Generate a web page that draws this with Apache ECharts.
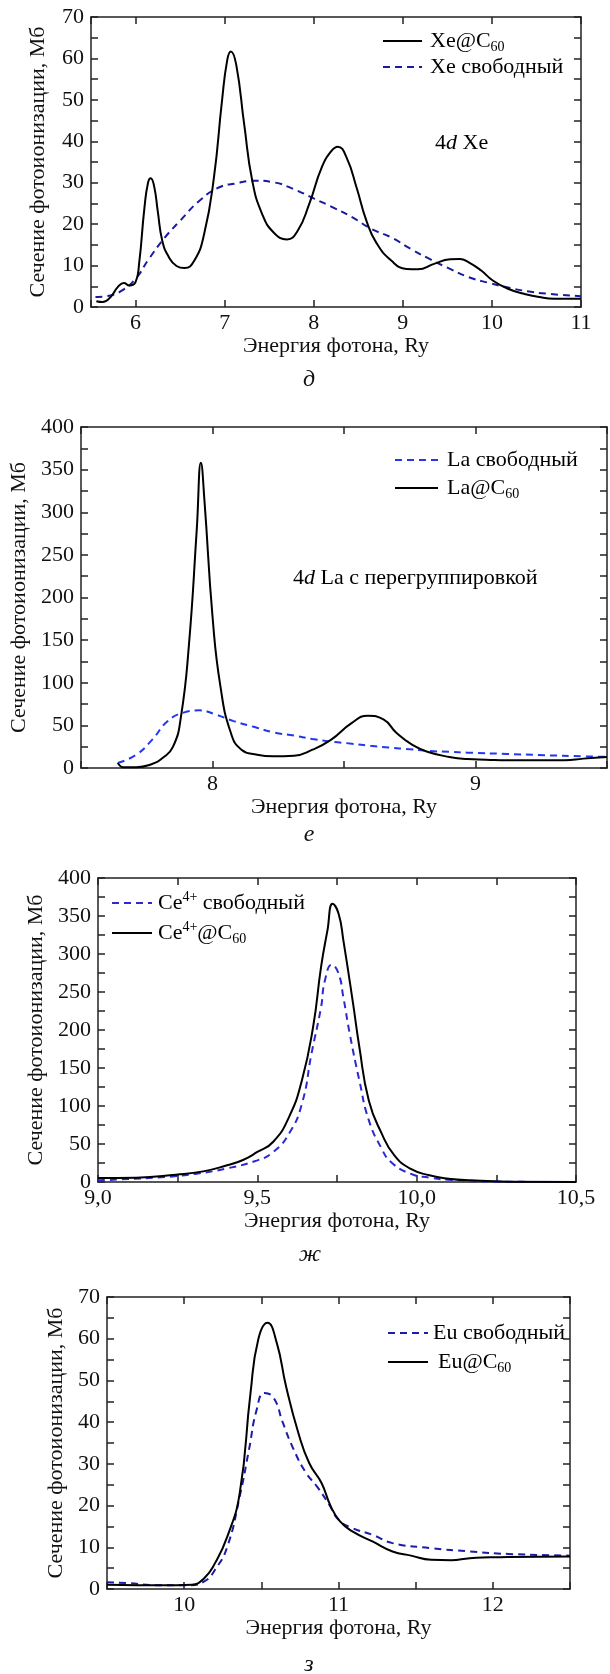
<!DOCTYPE html>
<html>
<head>
<meta charset="utf-8">
<script src="https://cdn.jsdelivr.net/npm/echarts@6.0.0/dist/echarts.min.js"></script>
<style>
  html, body { margin: 0; padding: 0; background: #fff; }
  #main { width: 610px; height: 1674px; }
</style>
</head>
<body>
<div id="main"></div>
<script>
// д: 4d Xe
var xeCageE = [5.56,5.63,5.72,5.8,5.87,5.93,6.0,6.04,6.1,6.14,6.17,6.21,6.25,6.3,6.37,6.46,6.55,6.66,6.77,6.88,6.97,7.03,7.07,7.13,7.22,7.31,7.42,7.55,7.7,7.82,7.95,8.09,8.2,8.27,8.37,8.48,8.59,8.7,8.87,9.04,9.17,9.35,9.53,9.64,9.74,9.88,10.01,10.18,10.36,10.53,10.7,11.0];
var xeCageS = [1.4,1.2,2.4,4.8,5.8,5.2,6.0,10.5,24,30,31.1,29,23,16,12.2,9.9,9.4,11.2,17.6,31.3,49.7,59.7,61.7,58.5,44,30.5,22.5,18,16.3,18.4,24.9,33.7,37.7,38.7,36,28.9,20.9,15.6,11.2,9.2,9.1,10.4,11.5,11.6,10.8,8.8,6.4,4.4,3.2,2.4,2.0,2.0];
var xeFreeE = [5.55,5.72,5.85,6.0,6.15,6.33,6.5,6.72,6.94,7.12,7.34,7.55,7.77,8.0,8.22,8.43,8.65,8.87,9.09,9.3,9.53,9.74,9.97,10.18,10.4,10.62,11.0];
var xeFreeS = [2.4,2.8,4.0,6.8,11.6,16.8,20.8,25.7,28.9,29.8,30.5,30.1,28.5,26.2,24,21.7,18.8,16.8,14,11.6,9.2,7.2,5.8,4.7,3.8,3.2,2.6];

// е: 4d La
var laCageE = [7.64,7.66,7.71,7.77,7.81,7.85,7.88,7.91,7.94,7.956,7.97,8.0,8.03,8.07,8.11,8.17,8.23,8.31,8.38,8.45,8.53,8.59,8.65,8.7,8.76,8.82,8.9,8.97,9.04,9.12,9.26,9.34,9.41,9.5];
var laCageS = [6,1,1,4.7,11.7,25,60,143,279,358,311,178,96,41,21.5,15.6,13.7,14.5,21.5,33,53,61.3,57,41,27,18.8,13,10.5,9.8,9,9,9,11,13];
var laFreeE = [7.64,7.71,7.77,7.83,7.89,7.95,8.01,8.08,8.16,8.23,8.31,8.38,8.45,8.53,8.6,8.67,8.75,8.82,8.9,8.97,9.12,9.26,9.41,9.5];
var laFreeS = [6,15.6,33,55,65,67.6,63,55,48,42,38,34,31,28.5,26,24,22,20,19,18,16.5,15,13.7,13];

// ж: Ce4+
var ceCageE = [9.0,9.12,9.245,9.33,9.405,9.455,9.5,9.55,9.6,9.64,9.675,9.7,9.72,9.736,9.755,9.77,9.8,9.82,9.85,9.89,9.93,9.98,10.04,10.1,10.17,10.29,10.5];
var ceCageS = [5.3,5.7,9.6,14,22,29,39.5,53,86,134,204,283,331,366,353,318,236,178,107,64,35,17.5,8.8,4.4,2.2,0.4,0];
var ceFreeE = [9.0,9.21,9.31,9.4,9.5,9.55,9.6,9.64,9.67,9.7,9.712,9.734,9.755,9.77,9.79,9.82,9.85,9.89,9.92,9.98,10.04,10.1,10.23,10.5];
var ceFreeS = [2.2,6.6,11,17.5,28.5,39.5,64,103,169,230,265,286,274,243,195,134,81,44,26,11,5.7,3,0.5,0];

// з: Eu
var euCageE = [9.5,9.7,9.95,10.05,10.13,10.2,10.28,10.36,10.43,10.48,10.54,10.6,10.66,10.74,10.81,10.89,10.95,11.01,11.09,11.22,11.35,11.47,11.6,11.73,11.85,11.98,12.1,12.5];
var euCageS = [1,0.9,0.9,1,2.6,6.2,12.6,23,47,59.8,63.8,59,48.6,37.4,30.2,25.4,19.8,16.2,13.8,11.4,9,8,7,6.9,7.4,7.6,7.7,7.8];
var euFreeE = [9.5,9.64,9.82,10.03,10.13,10.2,10.28,10.36,10.42,10.47,10.52,10.58,10.64,10.71,10.79,10.86,10.94,11.0,11.09,11.22,11.35,11.6,11.85,12.1,12.5];
var euFreeS = [1.6,1.4,0.9,0.9,1.8,4.6,10.2,22.2,33.4,43,47,45.8,39.8,33.4,27.8,24.6,20.2,16.6,14.6,13,11,9.8,9,8.4,8];

var xName = 'Энергия фотона, Ry';
var yName = 'Сечение фотоионизации, Мб';
var captions = ['д', 'е', 'ж', 'з'];

var FONT = 'Liberation Serif';
var AX = '#222';

function zip(e, s) {
  var out = [];
  for (var i = 0; i < e.length; i++) out.push([e[i], s[i]]);
  return out;
}

// panel boxes
var grids = [
  { left: 91, top: 17, width: 490, height: 290 },
  { left: 80, top: 427, width: 529, height: 341 },
  { left: 98, top: 878, width: 478, height: 304 },
  { left: 107, top: 1297, width: 463, height: 292 }
];

var intLabel = function (v) { return Math.abs(v - Math.round(v)) < 1e-6 ? String(Math.round(v)) : ''; };
var commaLabel = function (v) { return Math.abs(v * 2 - Math.round(v * 2)) < 1e-6 ? v.toFixed(1).replace('.', ',') : ''; };

var xCfg = [
  { min: 5.5, max: 11, minInterval: 1, maxInterval: 1, splitNumber: 6, fmt: intLabel, gap: 27 },
  { min: 7.5, max: 9.5, interval: 0.5, fmt: intLabel, gap: 27 },
  { min: 9, max: 10.5, interval: 0.25, fmt: commaLabel, gap: 25 },
  { min: 9.5, max: 12.5, interval: 0.5, fmt: intLabel, gap: 28 }
];
var yCfg = [
  { max: 70, interval: 10, gap: 42 },
  { max: 400, interval: 50, gap: 51 },
  { max: 400, interval: 50, gap: 44 },
  { max: 70, interval: 10, gap: 37 }
];

var xAxes = [], yAxes = [];
grids.forEach(function (g, i) {
  var xc = xCfg[i], yc = yCfg[i];
  ['bottom', 'top'].forEach(function (pos) {
    var a = {
      gridIndex: i, type: 'value', position: pos,
      min: xc.min, max: xc.max,
      axisLine: { show: true, onZero: false, lineStyle: { color: AX, width: 1.5 } },
      axisTick: { show: true, inside: true, length: 7, lineStyle: { color: AX, width: 1.5 } },
      splitLine: { show: false },
      axisLabel: {
        show: pos === 'bottom', formatter: xc.fmt, margin: 5,
        fontFamily: FONT, fontSize: 22, color: '#111'
      }
    };
    if (xc.interval) a.interval = xc.interval;
    if (xc.minInterval) { a.minInterval = xc.minInterval; a.maxInterval = xc.maxInterval; a.splitNumber = xc.splitNumber; }
    if (pos === 'bottom') {
      a.name = xName; a.nameLocation = 'middle'; a.nameGap = xc.gap;
      a.nameTextStyle = { fontFamily: FONT, fontSize: 22, color: '#111' };
    }
    xAxes.push(a);
  });
  ['left', 'right'].forEach(function (pos) {
    var a = {
      gridIndex: i, type: 'value', position: pos,
      min: 0, max: yc.max, interval: yc.interval,
      axisLine: { show: true, lineStyle: { color: AX, width: 1.5 } },
      axisTick: { show: true, inside: true, length: 7, lineStyle: { color: AX, width: 1.5 } },
      minorTick: { show: true, splitNumber: 2, length: 7, lineStyle: { color: AX, width: 1.5 } },
      splitLine: { show: false },
      axisLabel: {
        show: pos === 'left', margin: 7,
        fontFamily: FONT, fontSize: 22, color: '#111'
      }
    };
    if (pos === 'left') {
      a.name = yName; a.nameLocation = 'middle'; a.nameGap = yc.gap;
      a.nameTextStyle = { fontFamily: FONT, fontSize: 22, color: '#111' };
    }
    yAxes.push(a);
  });
});

function line(panel, e, s, color, dashed) {
  return {
    type: 'line', xAxisIndex: panel * 2, yAxisIndex: panel * 2,
    data: zip(e, s), symbol: 'none', showSymbol: false,
    smooth: 0.5, silent: true,
    lineStyle: { color: color, width: 2, type: dashed ? [7, 5] : 'solid' },
    z: dashed ? 2 : 3
  };
}

var blues = ['#1a1aa0', '#2238ee', '#2a2ad0', '#1c1ca8'];

var series = [
  line(0, xeFreeE, xeFreeS, blues[0], true),
  line(0, xeCageE, xeCageS, '#000', false),
  line(1, laFreeE, laFreeS, blues[1], true),
  line(1, laCageE, laCageS, '#000', false),
  line(2, ceFreeE, ceFreeS, blues[2], true),
  line(2, ceCageE, ceCageS, '#000', false),
  line(3, euFreeE, euFreeS, blues[3], true),
  line(3, euCageE, euCageS, '#000', false)
];

var rich = {
  t: { fontFamily: FONT, fontSize: 22, color: '#111', lineHeight: 26 },
  i: { fontFamily: FONT, fontSize: 22, fontStyle: 'italic', color: '#111', lineHeight: 26 },
  sub: { fontFamily: FONT, fontSize: 14, color: '#111', lineHeight: 14, verticalAlign: 'bottom' },
  sup: { fontFamily: FONT, fontSize: 14, color: '#111', lineHeight: 14, verticalAlign: 'top' }
};

function legLine(x1, x2, y, color, dashed) {
  return {
    type: 'line', shape: { x1: x1, y1: y, x2: x2, y2: y },
    style: { stroke: color, lineWidth: 2, lineDash: dashed ? [7, 5] : null }
  };
}
function label(x, y, txt) {
  return {
    type: 'text', x: x, y: y,
    style: { text: txt, rich: rich, verticalAlign: 'middle', align: 'left' }
  };
}
function caption(x, y, txt) {
  return {
    type: 'text', x: x, y: y,
    style: { text: txt, fontFamily: FONT, fontSize: 24, fontStyle: 'italic', fill: '#111', align: 'center', verticalAlign: 'middle' }
  };
}

var graphics = [
  legLine(383, 422, 41, '#000', false), label(430, 41, '{t|Xe@C}{sub|60}'),
  legLine(383, 422, 67, blues[0], true), label(430, 67, '{t|Xe свободный}'),
  label(435, 143, '{t|4}{i|d}{t| Xe}'),

  legLine(395, 438, 460, blues[1], true), label(447, 460, '{t|La свободный}'),
  legLine(395, 438, 488, '#000', false), label(447, 488, '{t|La@C}{sub|60}'),
  label(293, 578, '{t|4}{i|d}{t| La с перегруппировкой}'),

  legLine(112, 152, 903, blues[2], true), label(158, 903, '{t|Ce}{sup|4+}{t| свободный}'),
  legLine(112, 152, 933, '#000', false), label(158, 933, '{t|Ce}{sup|4+}{t|@C}{sub|60}'),

  legLine(388, 428, 1333, blues[3], true), label(433, 1333, '{t|Eu свободный}'),
  legLine(388, 428, 1362, '#000', false), label(438, 1362, '{t|Eu@C}{sub|60}'),

  caption(309, 380, captions[0]),
  caption(309, 835, captions[1]),
  caption(310, 1255, captions[2]),
  caption(309, 1665, captions[3])
];

var chart = echarts.init(document.getElementById('main'), null, { renderer: 'canvas' });
chart.setOption({
  animation: false,
  backgroundColor: '#fff',
  grid: grids.map(function (g) { return Object.assign({ containLabel: false }, g); }),
  xAxis: xAxes,
  yAxis: yAxes,
  series: series,
  graphic: graphics
});
</script>
</body>
</html>
